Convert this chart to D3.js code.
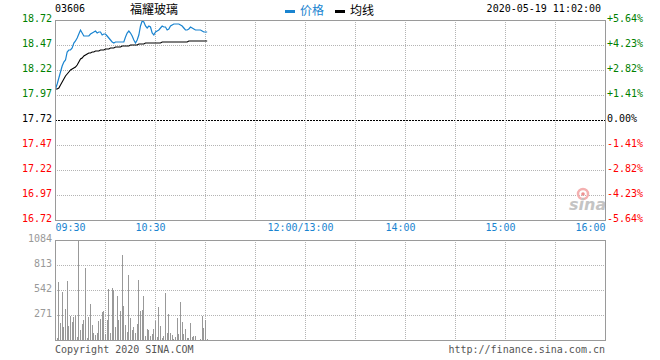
<html>
	<head>
		<meta charset="utf-8">
		<title>03606 福耀玻璃</title>
		<style>
			body { margin: 0; background: #ffffff; }
			text { font-family: "DejaVu Sans Mono", monospace; font-size: 10px; }
			.cjk { font-family: "Noto Sans CJK SC", sans-serif; font-size: 12px; }
		</style>
	</head>
	<body>

		<div id="chart"></div>

		<script src="https://cdn.jsdelivr.net/npm/d3@7"></script>
		<script>
			(function(){
				"use strict";

				// tick labels
				var priceTicks = [18.72, 18.47, 18.22, 17.97, 17.72, 17.47, 17.22, 16.97, 16.72];
				var pctTicks = ["+5.64%", "+4.23%", "+2.82%", "+1.41%", "0.00%", "-1.41%", "-2.82%", "-4.23%", "-5.64%"];
				var timeTicks = [0, 60, 150, 210, 270, 330]; // minutes since 09:30 (lunch removed)
				var timeLabels = ["09:30", "10:30", "12:00/13:00", "14:00", "15:00", "16:00"];
				var volTicks = [271, 542, 813, 1084];
				var prevClose = 17.72;

				// one value per minute, 09:30 - 11:01
				var price = [
					18.03, 18.08, 18.14, 18.20, 18.26, 18.30, 18.32, 18.40, 18.42, 18.42,
					18.44, 18.49, 18.51, 18.54, 18.58, 18.62, 18.59, 18.56, 18.56, 18.56,
					18.56, 18.58, 18.59, 18.60, 18.61, 18.59, 18.60, 18.60, 18.57, 18.58,
					18.58, 18.56, 18.54, 18.52, 18.50, 18.49, 18.50, 18.50, 18.50, 18.50,
					18.50, 18.50, 18.55, 18.59, 18.61, 18.59, 18.56, 18.52, 18.49, 18.52,
					18.57, 18.66, 18.71, 18.70, 18.66, 18.64, 18.66, 18.65, 18.59, 18.57,
					18.60, 18.61, 18.62, 18.64, 18.66, 18.65, 18.65, 18.62, 18.63, 18.66,
					18.67, 18.68, 18.68, 18.68, 18.68, 18.67, 18.66, 18.64, 18.62, 18.62,
					18.63, 18.65, 18.64, 18.63, 18.62, 18.62, 18.62, 18.62, 18.61, 18.60,
					18.60, 18.60
				];
				var avg = [
					18.03, 18.03, 18.04, 18.07, 18.10, 18.13, 18.16, 18.18, 18.20, 18.22,
					18.23, 18.24, 18.25, 18.27, 18.30, 18.33, 18.34, 18.36, 18.37, 18.38,
					18.39, 18.39, 18.40, 18.40, 18.41, 18.41, 18.41, 18.42, 18.42, 18.42,
					18.43, 18.43, 18.43, 18.44, 18.44, 18.44, 18.45, 18.45, 18.45, 18.45,
					18.46, 18.46, 18.46, 18.46, 18.46, 18.47, 18.47, 18.47, 18.47, 18.47,
					18.48, 18.48, 18.48, 18.48, 18.49, 18.49, 18.49, 18.49, 18.49, 18.49,
					18.49, 18.49, 18.49, 18.49, 18.50, 18.50, 18.50, 18.50, 18.50, 18.50,
					18.50, 18.50, 18.50, 18.50, 18.50, 18.50, 18.50, 18.50, 18.50, 18.50,
					18.51, 18.51, 18.51, 18.51, 18.51, 18.51, 18.51, 18.51, 18.51, 18.51,
					18.51, 18.51
				];
				var volume = [
					253, 20, 632, 188, 524, 145, 336, 640, 152, 260,
					199, 253, 271, 36, 1077, 108, 173, 217, 777, 18,
					253, 390, 163, 72, 54, 72, 210, 228, 307, 318,
					65, 217, 549, 79, 567, 542, 145, 477, 217, 314,
					921, 369, 163, 90, 705, 242, 108, 145, 72, 170,
					650, 314, 325, 477, 43, 119, 108, 47, 61, 119,
					206, 36, 361, 152, 18, 43, 513, 79, 282, 72,
					54, 11, 29, 242, 65, 415, 199, 61, 119, 18,
					25, 188, 36, 43, 47, 0, 0, 11, 260, 134,
					217, 11
				];

				var W = 660, H = 360;
				var left = 55, right = 605;
				var top = 20, bottom = 220;     // price panel
				var vTop = 240, vBottom = 340;  // volume panel

				var blue = "#1a84d0";
				var gridColor = "#b4b4b4";
				var borderColor = "#9a9a9a";

				var svg = d3.select("#chart").append("svg")
					.attr("width", W)
					.attr("height", H);

				// scales
				var x = d3.scaleLinear().domain([0, 330]).range([left, right]);
				var y = d3.scaleLinear().domain([16.72, 18.72]).range([bottom, top]);
				var v = d3.scaleLinear().domain([0, 1084]).range([vBottom, vTop]);

				var crisp = function(n){ return Math.round(n) + 0.5; };

				// grid - price panel
				var grid = svg.append("g")
					.attr("shape-rendering", "crispEdges");

				grid.selectAll("line.h")
					.data(priceTicks.slice(1, -1))
					.enter().append("line")
						.attr("x1", left).attr("x2", right)
						.attr("y1", function(d){ return crisp(y(d)); })
						.attr("y2", function(d){ return crisp(y(d)); })
						.style("stroke", function(d){ return d === prevClose ? "#000000" : gridColor; })
						.style("stroke-dasharray", function(d){ return d === prevClose ? "2,1" : "1,1"; });

				var vLines = d3.range(30, 330, 30);

				grid.selectAll("line.v")
					.data(vLines)
					.enter().append("line")
						.attr("y1", top).attr("y2", bottom)
						.attr("x1", function(d){ return crisp(x(d)); })
						.attr("x2", function(d){ return crisp(x(d)); })
						.style("stroke", gridColor)
						.style("stroke-dasharray", "1,1");

				// grid - volume panel
				grid.selectAll("line.vh")
					.data(volTicks.slice(0, -1))
					.enter().append("line")
						.attr("x1", left).attr("x2", right)
						.attr("y1", function(d){ return crisp(v(d)); })
						.attr("y2", function(d){ return crisp(v(d)); })
						.style("stroke", gridColor)
						.style("stroke-dasharray", "1,1");

				grid.selectAll("line.vv")
					.data(vLines)
					.enter().append("line")
						.attr("y1", vTop).attr("y2", vBottom)
						.attr("x1", function(d){ return crisp(x(d)); })
						.attr("x2", function(d){ return crisp(x(d)); })
						.style("stroke", gridColor)
						.style("stroke-dasharray", "1,1");

				// sina watermark
				var logo = svg.append("g").attr("transform", "translate(569,210)");
				logo.append("circle")
					.attr("cx", 14).attr("cy", -16).attr("r", 5)
					.style("fill", "none")
					.style("stroke", "#f4b0b0")
					.style("stroke-width", 2.5);
				logo.append("circle")
					.attr("cx", 14).attr("cy", -16).attr("r", 1.8)
					.style("fill", "#ee9090");
				logo.append("text")
					.attr("x", 0).attr("y", 0)
					.style("font-family", "DejaVu Sans, sans-serif")
					.style("font-size", "16px")
					.style("font-weight", "bold")
					.style("font-style", "italic")
					.style("fill", "#c4c4c4")
					.text("sina");

				// volume bars
				svg.append("g")
					.attr("shape-rendering", "crispEdges")
					.selectAll("rect")
					.data(volume)
					.enter().append("rect")
						.attr("x", function(d, i){ return Math.round(x(i)); })
						.attr("width", 1)
						.attr("y", function(d){ return v(d); })
						.attr("height", function(d){ return vBottom - v(d); })
						.style("fill", "#999999");

				// lines
				var line = d3.line()
					.x(function(d, i){ return x(i) + 0.5; })
					.y(function(d){ return y(d); });

				svg.append("path")
					.datum(avg)
					.attr("d", line)
					.style("fill", "none")
					.style("stroke", "#000000")
					.style("stroke-width", 1.1);

				svg.append("path")
					.datum(price)
					.attr("d", line)
					.style("fill", "none")
					.style("stroke", blue)
					.style("stroke-width", 1.2);

				// borders
				var border = svg.append("g")
					.attr("shape-rendering", "crispEdges")
					.style("fill", "none")
					.style("stroke", borderColor);
				border.append("rect")
					.attr("x", left + 0.5).attr("y", top + 0.5)
					.attr("width", right - left).attr("height", bottom - top);
				border.append("rect")
					.attr("x", left + 0.5).attr("y", vTop + 0.5)
					.attr("width", right - left).attr("height", vBottom - vTop);

				// axes
				var priceAxis = d3.axisLeft(y)
					.tickValues(priceTicks)
					.tickFormat(d3.format(".2f"))
					.tickSize(0)
					.tickPadding(3);
				var pGuide = svg.append("g")
					.attr("transform", "translate(" + left + ",0)");
				priceAxis(pGuide);
				pGuide.select(".domain").remove();
				pGuide.selectAll("text")
					.attr("dy", "0.12em")
					.style("font-family", "DejaVu Sans Mono, monospace")
					.style("font-size", "10px")
					.style("fill", function(d){
						return d > prevClose ? "#008000" : (d < prevClose ? "#ff0000" : "#000000");
					});

				var pctAxis = d3.axisRight(y)
					.tickValues(priceTicks)
					.tickFormat(function(d, i){ return pctTicks[i]; })
					.tickSize(0)
					.tickPadding(2);
				var rGuide = svg.append("g")
					.attr("transform", "translate(" + right + ",0)");
				pctAxis(rGuide);
				rGuide.select(".domain").remove();
				rGuide.selectAll("text")
					.attr("dy", "0.12em")
					.style("font-family", "DejaVu Sans Mono, monospace")
					.style("font-size", "10px")
					.style("fill", function(d){
						return d > prevClose ? "#008000" : (d < prevClose ? "#ff0000" : "#000000");
					});

				var timeAxis = d3.axisBottom(x)
					.tickValues(timeTicks)
					.tickFormat(function(d, i){ return timeLabels[i]; })
					.tickSize(0)
					.tickPadding(4);
				var tGuide = svg.append("g")
					.attr("transform", "translate(0," + bottom + ")");
				timeAxis(tGuide);
				tGuide.select(".domain").remove();
				tGuide.selectAll("text")
					.style("font-family", "DejaVu Sans Mono, monospace")
					.style("font-size", "10px")
					.style("fill", blue)
					.attr("dx", function(d, i){ return (i === 0 || i === timeTicks.length - 1) ? 0 : -5; })
					.attr("text-anchor", function(d, i){
						return i === 0 ? "start" : (i === timeTicks.length - 1 ? "end" : "middle");
					});

				var volAxis = d3.axisLeft(v)
					.tickValues(volTicks)
					.tickFormat(d3.format("d"))
					.tickSize(0)
					.tickPadding(3);
				var vGuide = svg.append("g")
					.attr("transform", "translate(" + left + ",0)");
				volAxis(vGuide);
				vGuide.select(".domain").remove();
				vGuide.selectAll("text")
					.attr("dy", "0.12em")
					.style("font-family", "DejaVu Sans Mono, monospace")
					.style("font-size", "10px")
					.style("fill", "#999999");

				// header
				svg.append("text")
					.attr("x", left).attr("y", 12)
					.style("fill", "#000000")
					.text("03606");
				svg.append("text")
					.attr("class", "cjk")
					.attr("x", 130).attr("y", 14)
					.style("fill", "#000000")
					.text("福耀玻璃");

				var legend = [
					{ name: "价格", color: blue, x: 285 },
					{ name: "均线", color: "#000000", x: 335 }
				];
				var lg = svg.selectAll("g.legend")
					.data(legend)
					.enter().append("g")
						.attr("transform", function(d){ return "translate(" + d.x + ",0)"; });
				lg.append("rect")
					.attr("x", 0).attr("y", 10)
					.attr("width", 10).attr("height", 3)
					.style("fill", function(d){ return d.color; });
				lg.append("text")
					.attr("class", "cjk")
					.attr("x", 15).attr("y", 15)
					.style("fill", function(d){ return d.color; })
					.text(function(d){ return d.name; });

				svg.append("text")
					.attr("x", 601).attr("y", 12)
					.attr("text-anchor", "end")
					.style("fill", "#000000")
					.text("2020-05-19 11:02:00");

				// footer
				svg.append("text")
					.attr("x", left).attr("y", 353)
					.style("fill", "#555555")
					.text("Copyright 2020 SINA.COM");
				svg.append("text")
					.attr("x", right).attr("y", 353)
					.attr("text-anchor", "end")
					.style("fill", "#555555")
					.text("http://finance.sina.com.cn");

			})();
		</script>

	</body>
</html>
